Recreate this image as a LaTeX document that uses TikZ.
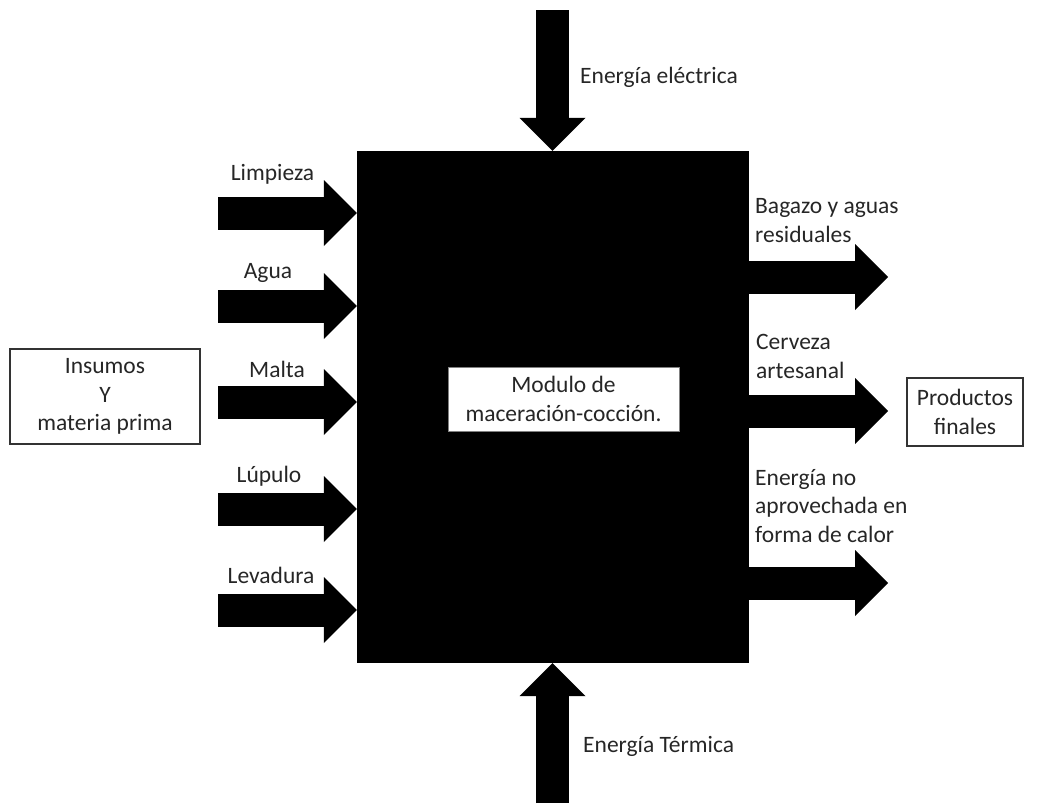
\documentclass[tikz,border=0pt]{standalone}
\usepackage{fontspec}
\setmainfont{Carlito}
\usepackage{tikz}
\usetikzlibrary{arrows.meta}
\usetikzlibrary{calc}

\tikzset{
  flow/.style={line width=33pt, -{Triangle[length=33pt, width=66pt, line width=0pt]}},
  txt/.style={font=\fontsize{23.5}{28.5}\selectfont, inner sep=0pt, text=black!85},
  framed/.style={txt, draw=black!80, line width=1.3pt, fill=white, align=center}
}

\begin{document}
\begin{tikzpicture}[x=1pt, y=-1pt]
        \useasboundingbox (0, 0) rectangle (1043, 803);
        \node[fill=black, minimum width=392pt, minimum height=512pt, inner sep=0pt] (modulo) at (553, 407) {};
        \node[framed, draw=black!50, line width=0.8pt, minimum width=231pt, minimum height=64pt] (moduloName) at (563.5, 399) {Modulo de\\maceración-cocción.};
        \node[framed, minimum width=190pt, minimum height=95pt] (insumos) at (105, 396.5) {Insumos\\Y\\materia prima};
        \node[framed, minimum width=116pt, minimum height=68pt] (productos) at (965, 412) {Productos\\finales};

        % free ends of the flows
        \coordinate (limpiezaIn) at (218, 213);
        \coordinate (aguaIn) at (218, 306);
        \coordinate (maltaIn) at (218, 402);
        \coordinate (lupuloIn) at (218, 509);
        \coordinate (levaduraIn) at (218, 610);
        \coordinate (electricaIn) at (552.5, 10);
        \coordinate (termicaIn) at (552.5, 803);
        \coordinate (bagazoOut) at (888, 277);
        \coordinate (cervezaOut) at (888, 411);
        \coordinate (calorOut) at (888, 583);

        \draw[flow] (limpiezaIn) -- (limpiezaIn -| modulo.west);
        \draw[flow] (aguaIn) -- (aguaIn -| modulo.west);
        \draw[flow] (maltaIn) -- (maltaIn -| modulo.west);
        \draw[flow] (lupuloIn) -- (lupuloIn -| modulo.west);
        \draw[flow] (levaduraIn) -- (levaduraIn -| modulo.west);
        \draw[flow] (electricaIn) -- (electricaIn |- modulo.north);
        \draw[flow] (termicaIn) -- (termicaIn |- modulo.south);
        \draw[flow] (bagazoOut -| modulo.east) -- (bagazoOut);
        \draw[flow] (cervezaOut -| modulo.east) -- (cervezaOut);
        \draw[flow] (calorOut -| modulo.east) -- (calorOut);

        \node[txt, anchor=base] (limpieza) at (272.5, 180) {Limpieza};
        \node[txt, anchor=base] (agua) at (268, 278) {Agua};
        \node[txt, anchor=base] (malta) at (277, 377) {Malta};
        \node[txt, anchor=base] (lupulo) at (269, 482) {Lúpulo};
        \node[txt, anchor=base] (levadura) at (271, 583) {Levadura};
        \node[txt, anchor=base west] (electrica) at (580, 83) {Energía eléctrica};
        \node[txt, anchor=base west] (termica) at (583, 752) {Energía Térmica};
        % base is the last line here
        \node[txt, anchor=base west, align=left] (bagazo) at (755, 242) {Bagazo y aguas\\residuales};
        \node[txt, anchor=base west, align=left] (cerveza) at (756, 378) {Cerveza\\artesanal};
        \node[txt, anchor=base west, align=left] (calor) at (755, 542) {Energía no\\aprovechada en\\forma de calor};
    \end{tikzpicture}
\end{document}
